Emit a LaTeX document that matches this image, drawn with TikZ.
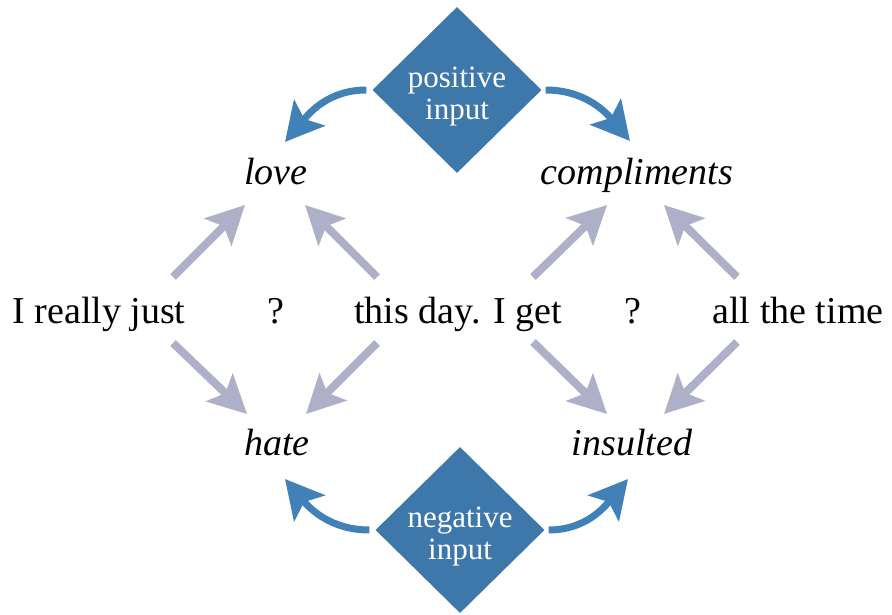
\documentclass[tikz,border=0pt]{standalone}
\usepackage{fontspec}
\setmainfont{Liberation Serif}
\usetikzlibrary{arrows.meta,shapes.geometric}
\definecolor{dblue}{HTML}{3E77A9}
\definecolor{ablue}{HTML}{4281B8}
\definecolor{agray}{HTML}{AEB0C8}
\tikzset{
  word/.style={anchor=base,font=\fontsize{38}{44}\selectfont,inner sep=0pt},
  iword/.style={word,font=\fontsize{38}{44}\selectfont\itshape},
  dia/.style={diamond,fill=dblue,minimum width=169pt,minimum height=166pt,inner sep=0pt},
  dtext/.style={text=white,align=center,font=\fontsize{31}{32}\selectfont,inner sep=0pt},
  garrow/.style={draw=agray,line width=8pt,-{Stealth[length=38pt,width=38pt,inset=8pt]}},
  barrow/.style={draw=ablue,line width=7pt,-{Stealth[length=38pt,width=40pt,inset=8pt]}},
}
\begin{document}
\begin{tikzpicture}[x=1pt,y=-1pt]
\useasboundingbox (0,0) rectangle (892,615);
% diamonds
\node[dia] (pos) at (457,90) {};
\node[dtext] (post) at (457,97) {positive\\input};
\node[dia] (neg) at (460,530) {};
\node[dtext] (negt) at (460,537) {negative\\input};
% words
\node[iword] (love) at (276,185) {love};
\node[iword] (comp) at (637,185) {compliments};
\node[iword] (hate) at (277,455) {hate};
\node[iword] (ins) at (632,455) {insulted};
\node[word] (w1) at (99,323) {I really just};
\node[word] (q1) at (276,323) {?};
\node[word] (w2) at (458,323) {this day. I get};
\node[word] (q2) at (633,323) {?};
\node[word] (w3) at (798,323) {all the time};
% gray arrow coordinates
\coordinate (a1s) at (173,277); \coordinate (a1e) at (245,205);
\coordinate (a2s) at (377,277); \coordinate (a2e) at (305,205);
\coordinate (a3s) at (173,343); \coordinate (a3e) at (247,414);
\coordinate (a4s) at (377,343); \coordinate (a4e) at (306,414);
\coordinate (b1s) at (533,277); \coordinate (b1e) at (607,205);
\coordinate (b2s) at (737,277); \coordinate (b2e) at (664,205);
\coordinate (b3s) at (533,342); \coordinate (b3e) at (607,414);
\coordinate (b4s) at (737,342); \coordinate (b4e) at (664,414);
\draw[garrow] (a1s) -- (a1e);
\draw[garrow] (a2s) -- (a2e);
\draw[garrow] (a3s) -- (a3e);
\draw[garrow] (a4s) -- (a4e);
\draw[garrow] (b1s) -- (b1e);
\draw[garrow] (b2s) -- (b2e);
\draw[garrow] (b3s) -- (b3e);
\draw[garrow] (b4s) -- (b4e);
% blue curved arrows
\coordinate (pl) at (285,142);
\coordinate (pr) at (630,141);
\coordinate (nl) at (285,479);
\coordinate (nr) at (628,479);
\draw[barrow] ([xshift=-6pt]pos.west) to[out=180,in=50] (pl);
\draw[barrow] ([xshift=4pt]pos.east) to[out=0,in=130] (pr);
\draw[barrow] ([xshift=-6pt]neg.west) to[out=180,in=-50] (nl);
\draw[barrow] ([xshift=4pt]neg.east) to[out=0,in=-130] (nr);
\end{tikzpicture}
\end{document}
